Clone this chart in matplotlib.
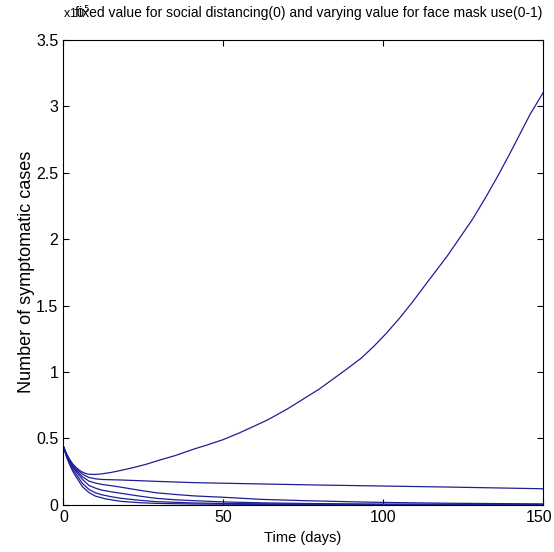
import numpy as np
import matplotlib
matplotlib.use("Agg")
import matplotlib.pyplot as plt
import matplotlib.transforms as mtransforms

plt.rcParams["font.family"] = ["Liberation Sans", "DejaVu Sans"]

# values, in units of 1e5 cases
t_mask0 = [0, 1, 2, 3, 4, 5, 6, 7, 8, 10, 12, 15, 18, 22, 26, 30, 35, 41, 45, 50, 55, 60, 64, 70,
           76, 80, 84, 88, 93, 97, 101, 105, 109, 114, 120, 124, 128, 132, 136, 140, 143, 146, 150]
y_mask0 = [0.44, 0.385, 0.34, 0.305, 0.28, 0.26, 0.245, 0.235, 0.229, 0.228, 0.232, 0.243, 0.258,
           0.28, 0.305, 0.335, 0.37, 0.42, 0.45, 0.49, 0.54, 0.595, 0.64, 0.72, 0.81, 0.87, 0.94,
           1.01, 1.10, 1.19, 1.29, 1.40, 1.52, 1.68, 1.87, 2.01, 2.15, 2.31, 2.48, 2.66, 2.80,
           2.94, 3.10]

t_mask02 = [0, 1, 2, 3, 4, 6, 8, 10, 12, 18, 30, 41, 60, 80, 99, 120, 150]
y_mask02 = [0.44, 0.38, 0.335, 0.3, 0.27, 0.23, 0.205, 0.195, 0.19, 0.186, 0.175, 0.166, 0.157,
            0.148, 0.141, 0.133, 0.12]

t_mask04 = [0, 1, 2, 3, 4, 6, 8, 10, 12, 15, 18, 21, 24, 29, 35, 41, 50, 62, 76, 90, 100, 120, 150]
y_mask04 = [0.44, 0.375, 0.33, 0.29, 0.26, 0.21, 0.178, 0.163, 0.153, 0.143, 0.132, 0.12, 0.108,
            0.09, 0.077, 0.066, 0.056, 0.04, 0.03, 0.022, 0.017, 0.011, 0.006]

t_mask06 = [0, 1, 2, 3, 4, 6, 8, 10, 12, 15, 18, 24, 29, 35, 41, 50, 62, 76, 100, 150]
y_mask06 = [0.44, 0.37, 0.32, 0.28, 0.25, 0.19, 0.145, 0.125, 0.11, 0.097, 0.086, 0.064, 0.048,
            0.037, 0.03, 0.021, 0.014, 0.009, 0.004, 0.001]

t_mask08 = [0, 1, 2, 3, 4, 6, 8, 10, 12, 15, 18, 24, 29, 41, 50, 75, 100, 150]
y_mask08 = [0.44, 0.365, 0.31, 0.265, 0.23, 0.16, 0.115, 0.09, 0.075, 0.06, 0.048, 0.033, 0.023,
            0.013, 0.009, 0.004, 0.002, 0.0005]

t_mask1 = [0, 1, 2, 3, 4, 6, 8, 10, 13, 18, 24, 29, 41, 60, 100, 150]
y_mask1 = [0.44, 0.36, 0.30, 0.25, 0.21, 0.135, 0.092, 0.065, 0.045, 0.025, 0.015, 0.01, 0.005,
           0.002, 0.0005, 0.0]

curves = [(t_mask0, y_mask0), (t_mask02, y_mask02), (t_mask04, y_mask04),
          (t_mask06, y_mask06), (t_mask08, y_mask08), (t_mask1, y_mask1)]

fig = plt.figure(figsize=(5.54, 5.52), dpi=100)
ax = fig.add_axes([0.1143, 0.0857, 0.8657, 0.842])

for t, y in curves:
    ax.plot(t, np.array(y) * 1e5, color="#1f1f95", lw=0.9)

ax.set_xlim(0, 150)
ax.set_ylim(0, 3.5e5)
ax.set_xticks([0, 50, 100, 150])
yt = np.arange(0, 3.51, 0.5)
ax.set_yticks(yt * 1e5)
ax.set_yticklabels(["0" if v == 0 else f"{v:g}" for v in yt])
ax.tick_params(direction="in", top=True, right=True, labelsize=11.5, length=4, width=0.8)
for s in ax.spines.values():
    s.set_linewidth(0.8)

# keep the last x tick label inside the figure
last = ax.get_xticklabels()[-1]
last.set_transform(last.get_transform() + mtransforms.ScaledTranslation(-4 / 100, 0, fig.dpi_scale_trans))

ax.set_xlabel("Time (days)", fontsize=10.5, labelpad=5)
ax.set_ylabel("Number of symptomatic cases", fontsize=13, labelpad=1)
fig.text(0.558, 0.977, "fixed value for social distancing(0) and varying value for face mask use(0-1)",
         ha="center", va="center", fontsize=10)
fig.text(0.114, 0.962, r"x10$^5$", ha="left", va="bottom", fontsize=9)

fig.savefig("out.png", dpi=100)
